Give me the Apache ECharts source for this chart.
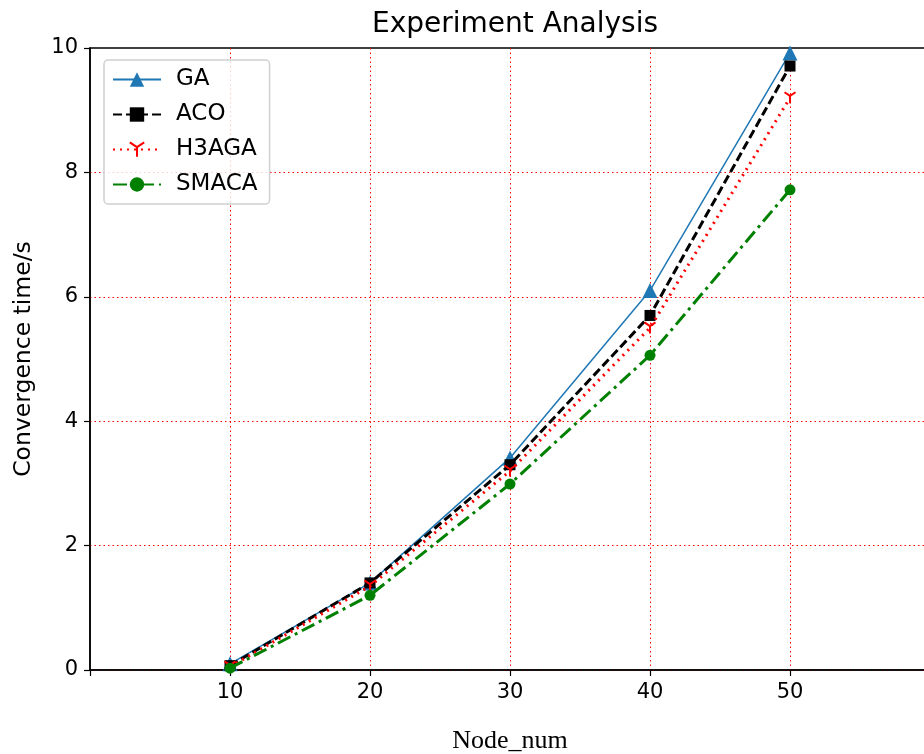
<!DOCTYPE html>
<html>
<head>
<meta charset="utf-8">
<title>Experiment Analysis</title>
<script src="https://cdn.jsdelivr.net/npm/echarts@6/dist/echarts.min.js"></script>
<style>
    html, body { margin: 0; padding: 0; background: #fff; }
    #main { width: 924px; height: 754px; }
</style>
</head>
<body>
<div id="main"></div>
<script>
// 横轴节点数
var nodeNum = [10, 20, 30, 40, 50];

// 各算法收敛时间 (s)
var gaData = [0.10, 1.40, 3.41, 6.10, 9.92];
var acoData = [0.07, 1.40, 3.30, 5.70, 9.71];
var h3agaData = [0.05, 1.35, 3.20, 5.50, 9.20];
var smacaData = [0.03, 1.20, 2.99, 5.06, 7.72];

var seriesNames = ['GA', 'ACO', 'H3AGA', 'SMACA'];

// 组合成 [x, y]
var pairs = function (xs, ys) {
    var data = [];
    for (let i in xs) {
        data.push([xs[i], ys[i]]);
    }
    return data;
};

var fontSans = 'DejaVu Sans';
var gridRed = '#ff0000';

// Y 形标记 (tri_down)
var triDown = 'path://M5,10 L5,5 M5,5 L0.67,2.5 M5,5 L9.33,2.5';

var my_chart = echarts.init(document.getElementById('main'));
var option = {
    backgroundColor: '#fff',
    animation: false,
    title: {
        text: 'Experiment Analysis',
        left: 510,
        textAlign: 'center',
        top: 6,
        textStyle: {
            fontFamily: fontSans,
            fontSize: 28,
            fontWeight: 'normal',
            color: '#000'
        }
    },
    grid: {
        left: 90,
        right: -6,
        top: 48,
        bottom: 84,
        outerBoundsMode: 'none',
        containLabel: false,
        show: true,
        borderColor: '#000',
        borderWidth: 1.5,
        backgroundColor: 'transparent'
    },
    legend: {
        orient: 'vertical',
        left: 104,
        top: 60,
        padding: [8, 12, 8, 8],
        itemWidth: 48,
        itemHeight: 18,
        itemGap: 12,
        borderColor: '#d0d0d0',
        borderWidth: 1.5,
        borderRadius: 4,
        backgroundColor: 'rgba(255,255,255,0.8)',
        data: seriesNames,
        textStyle: {
            fontFamily: fontSans,
            fontSize: 23,
            color: '#000',
            padding: [0, 0, 0, 10]
        }
    },
    xAxis: {
        type: 'value',
        min: 0,
        max: 60,
        interval: 10,
        name: 'Node_num',
        nameLocation: 'middle',
        nameGap: 58,
        nameTextStyle: {
            fontFamily: 'Liberation Serif',
            fontSize: 26,
            color: '#000'
        },
        axisLine: { show: true, onZero: false, lineStyle: { color: '#000', width: 1.5 } },
        axisTick: { show: true, inside: false, length: 6, lineStyle: { color: '#000', width: 1.2 } },
        axisLabel: {
            fontFamily: fontSans,
            fontSize: 21,
            color: '#000',
            margin: 12,
            formatter: function (v) {
                return (v === 0 || v === 60) ? '' : String(v);
            }
        },
        splitLine: {
            show: true,
            showMinLine: false,
            showMaxLine: false,
            lineStyle: { color: gridRed, width: 1, type: [1.5, 3] }
        }
    },
    yAxis: {
        type: 'value',
        min: 0,
        max: 10,
        interval: 2,
        name: 'Convergence time/s',
        nameLocation: 'middle',
        nameGap: 54,
        nameRotate: 90,
        nameTextStyle: {
            fontFamily: fontSans,
            fontSize: 23.5,
            color: '#000'
        },
        axisLine: { show: true, lineStyle: { color: '#000', width: 1.5 } },
        axisTick: { show: true, inside: false, length: 6, lineStyle: { color: '#000', width: 1.2 } },
        axisLabel: {
            fontFamily: fontSans,
            fontSize: 21,
            color: '#000',
            margin: 12
        },
        splitLine: {
            show: true,
            showMaxLine: false,
            lineStyle: { color: gridRed, width: 1, type: [1.5, 3] }
        }
    },
    series: [
        {
            name: 'GA',
            type: 'line',
            data: pairs(nodeNum, gaData),
            symbol: 'triangle',
            symbolSize: 15,
            color: '#1f77b4',
            lineStyle: { color: '#1f77b4', width: 1.5, type: 'solid' },
            itemStyle: { color: '#1f77b4' },
            z: 5
        },
        {
            name: 'ACO',
            type: 'line',
            data: pairs(nodeNum, acoData),
            symbol: 'rect',
            symbolSize: 11,
            color: '#000',
            lineStyle: { color: '#000', width: 3, type: [9, 4] },
            itemStyle: { color: '#000' },
            z: 6
        },
        {
            name: 'H3AGA',
            type: 'line',
            data: pairs(nodeNum, h3agaData),
            symbol: triDown,
            symbolSize: 11,
            color: '#ff0000',
            lineStyle: { color: '#ff0000', width: 3, type: [2, 5] },
            itemStyle: { color: '#ff0000', borderColor: '#ff0000', borderWidth: 2 },
            z: 7
        },
        {
            name: 'SMACA',
            type: 'line',
            data: pairs(nodeNum, smacaData),
            symbol: 'circle',
            symbolSize: 11,
            color: '#008000',
            lineStyle: { color: '#008000', width: 3, type: [14, 5, 3, 5] },
            itemStyle: { color: '#008000' },
            z: 8
        }
    ]
};
my_chart.setOption(option);
</script>
</body>
</html>
